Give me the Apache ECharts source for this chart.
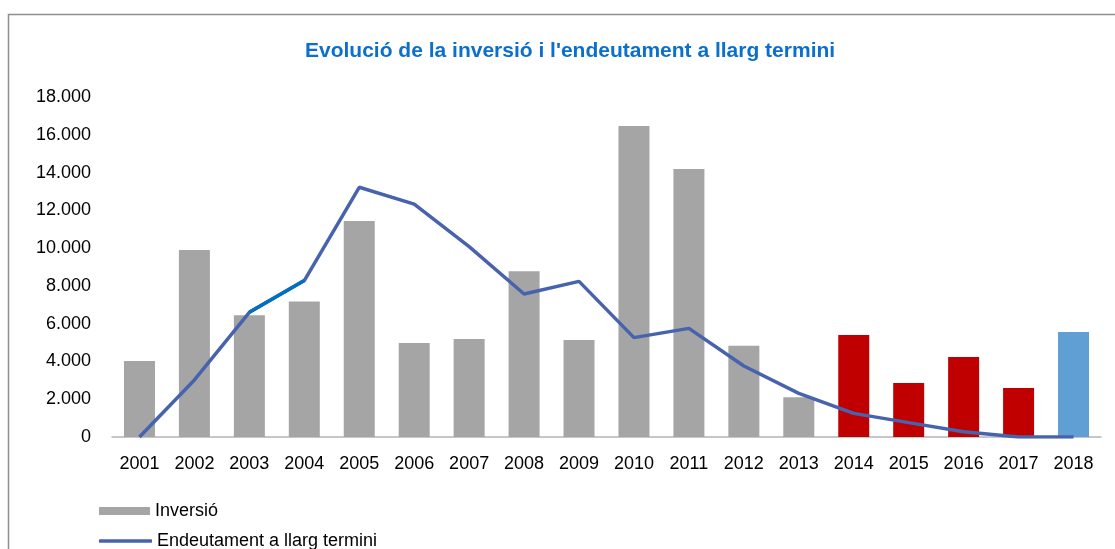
<!DOCTYPE html>
<html>
<head>
<meta charset="utf-8">
<script src="https://cdn.jsdelivr.net/npm/echarts@6/dist/echarts.min.js"></script>
<style>
  html, body { margin: 0; padding: 0; background: #fff; }
  #chart { width: 1115px; height: 549px; }
</style>
</head>
<body>
<div id="chart"></div>
<script>
// 数据
const years = ['2001', '2002', '2003', '2004', '2005', '2006', '2007', '2008', '2009',
  '2010', '2011', '2012', '2013', '2014', '2015', '2016', '2017', '2018'];
const inversio = [4020, 9900, 6450, 7180, 11430, 4980, 5190, 8770, 5130,
  16460, 14190, 4830, 2100, 5400, 2860, 4230, 2590, 5560];
const endeutament = [0, 3020, 6600, 8280, 13220, 12330, 10080, 7570, 8240,
  5260, 5750, 3760, 2310, 1250, 760, 280, 0, 0];
// 2003-2004 段颜色不同
const tramDestacat = ['-', '-', 6600, 8280, '-', '-', '-', '-', '-',
  '-', '-', '-', '-', '-', '-', '-', '-', '-'];
// 柱颜色分组：灰 / 红 / 蓝
const barColors = ['#A5A5A5', '#A5A5A5', '#A5A5A5', '#A5A5A5', '#A5A5A5', '#A5A5A5',
  '#A5A5A5', '#A5A5A5', '#A5A5A5', '#A5A5A5', '#A5A5A5', '#A5A5A5', '#A5A5A5',
  '#C00000', '#C00000', '#C00000', '#C00000', '#609FD4'];

const font = 'Liberation Sans, Arial, sans-serif';
const lineColor = '#4863AE';
const chart = echarts.init(document.getElementById('chart'));

function fmtMiles(v) {
  return String(v).replace(/\B(?=(\d{3})+(?!\d))/g, '.');
}

const legendText = { color: '#000', fontSize: 18, fontFamily: font };

const option = {
  animation: false,
  textStyle: { fontFamily: font },
  graphic: [{
    type: 'rect',
    shape: { x: 8.5, y: 14.5, width: 1200, height: 700 },
    style: { fill: 'none', stroke: '#8F8F8F', lineWidth: 1.5 },
    silent: true
  }],
  title: {
    text: "Evolució de la inversió i l'endeutament a llarg termini",
    left: 300,
    top: 36,
    textStyle: { color: '#0B6FCB', fontSize: 21, fontWeight: 'bold', fontFamily: font }
  },
  // 两个图例分开放，避免纵向换列
  legend: [
    {
      left: 94,
      top: 497,
      itemWidth: 51,
      itemHeight: 8,
      data: [{ name: 'Inversió', icon: 'rect', itemStyle: { color: '#A5A5A5' } }],
      textStyle: legendText
    },
    {
      left: 94,
      top: 527,
      itemWidth: 53,
      itemHeight: 3.5,
      data: [{ name: 'Endeutament a llarg termini', icon: 'roundRect', itemStyle: { color: lineColor } }],
      textStyle: legendText
    }
  ],
  grid: { left: 112, right: 14, top: 97, bottom: 112 },
  xAxis: {
    type: 'category',
    data: years,
    axisLine: { lineStyle: { color: '#B4B4B4', width: 1.5 } },
    axisTick: { show: false },
    axisLabel: { color: '#000', fontSize: 18, margin: 18, fontFamily: font }
  },
  yAxis: {
    type: 'value',
    min: 0,
    max: 18000,
    interval: 2000,
    axisLine: { show: false },
    axisTick: { show: false },
    splitLine: { show: false },
    axisLabel: { color: '#000', fontSize: 18, margin: 21, fontFamily: font, formatter: fmtMiles }
  },
  series: [
    {
      name: 'Inversió',
      type: 'bar',
      barWidth: 31,
      data: inversio.map((v, i) => ({ value: v, itemStyle: { color: barColors[i] } })),
      itemStyle: { color: '#A5A5A5' }
    },
    {
      name: 'Endeutament a llarg termini',
      type: 'line',
      data: endeutament,
      symbol: 'none',
      lineStyle: { color: lineColor, width: 3.5 },
      itemStyle: { color: lineColor },
      z: 3
    },
    {
      name: 'tram',
      type: 'line',
      data: tramDestacat,
      symbol: 'none',
      lineStyle: { color: '#0070C0', width: 3.5 },
      z: 4
    }
  ]
};

chart.setOption(option);
</script>
</body>
</html>
